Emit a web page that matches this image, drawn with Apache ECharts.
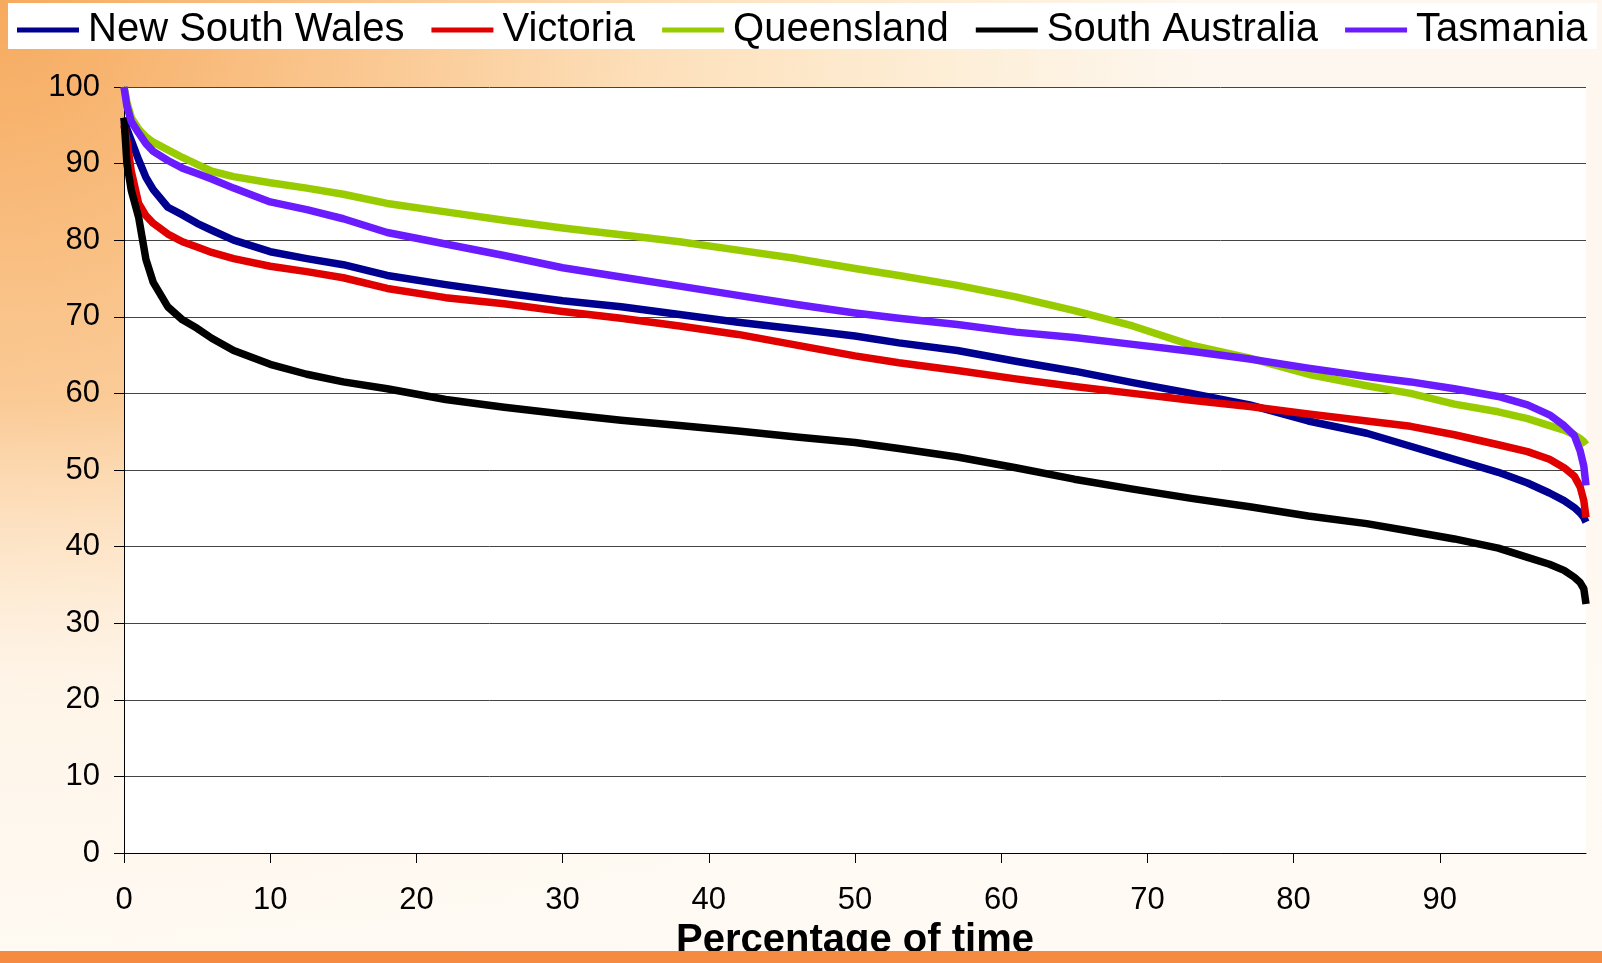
<!DOCTYPE html>
<html>
<head>
<meta charset="utf-8">
<script src="https://cdn.jsdelivr.net/npm/echarts@6/dist/echarts.min.js"></script>
<style>
html,body{margin:0;padding:0;}
#chart{width:1602px;height:963px;}
</style>
</head>
<body>
<div id="chart"></div>
<script>
// Percentage of time (x values)
const percentOfTime = [0, 0.2, 0.5, 1, 1.5, 2, 3, 4, 5, 6, 7.5, 10, 12.5, 15, 18, 22, 26, 30, 34, 38, 42, 46, 50, 53, 57, 61, 65, 69, 73, 77, 81, 85, 88, 91, 94, 96, 97.5, 98.5, 99.2, 99.6, 99.85, 100];

const newSouthWales = [96, 94.5, 93, 90.5, 88.2, 86.6, 84.3, 83.3, 82.2, 81.3, 80, 78.5, 77.6, 76.8, 75.4, 74.2, 73.1, 72.1, 71.3, 70.3, 69.3, 68.4, 67.5, 66.6, 65.6, 64.2, 62.9, 61.4, 60.0, 58.5, 56.4, 54.8, 53.1, 51.4, 49.7, 48.3, 47.0, 46.0, 45.1, 44.4, 43.8, 43.2];
const victoria = [95, 93, 89, 84.8, 83.2, 82.2, 80.8, 79.8, 79.1, 78.4, 77.6, 76.6, 75.9, 75.1, 73.7, 72.5, 71.7, 70.7, 69.8, 68.8, 67.7, 66.3, 64.9, 64.0, 63.0, 61.9, 60.9, 60.0, 59.1, 58.3, 57.3, 56.4, 55.7, 54.6, 53.3, 52.4, 51.4, 50.3, 49.2, 47.8, 46.0, 43.8];
const queensland = [100, 98, 96, 94.5, 93.5, 92.8, 91.8, 90.8, 89.9, 89.0, 88.3, 87.5, 86.8, 86.0, 84.8, 83.7, 82.6, 81.6, 80.7, 79.8, 78.7, 77.6, 76.3, 75.4, 74.1, 72.6, 70.8, 68.8, 66.3, 64.6, 62.5, 61.0, 60.0, 58.6, 57.6, 56.7, 55.8, 55.2, 54.6, 54.1, 53.7, 53.3];
const southAustralia = [96, 90, 86.5, 83, 77.5, 74.5, 71.3, 69.6, 68.5, 67.2, 65.6, 63.8, 62.5, 61.5, 60.6, 59.2, 58.2, 57.3, 56.5, 55.8, 55.1, 54.3, 53.6, 52.8, 51.7, 50.3, 48.8, 47.5, 46.3, 45.2, 44.0, 43.0, 42.0, 41.0, 39.8, 38.6, 37.7, 36.9, 36.0, 35.3, 34.5, 32.5];
const tasmania = [100, 97.5, 95.5, 94, 92.6, 91.6, 90.4, 89.4, 88.7, 88.0, 86.8, 85, 84, 82.8, 81.0, 79.5, 78.0, 76.4, 75.2, 74.0, 72.8, 71.6, 70.5, 69.8, 69.0, 68.0, 67.3, 66.4, 65.5, 64.5, 63.3, 62.2, 61.5, 60.6, 59.6, 58.5, 57.2, 55.8, 54.5, 52.5, 50.5, 48];

const seriesNames = ['New South Wales', 'Victoria', 'Queensland', 'South Australia', 'Tasmania'];
const seriesColors = ['#000090', '#e00000', '#99cc00', '#000000', '#6a1cff'];
const seriesValues = [newSouthWales, victoria, queensland, southAustralia, tasmania];
const yTicks = [0, 10, 20, 30, 40, 50, 60, 70, 80, 90, 100];

const FONT = 'Liberation Sans, Arial, sans-serif';

const chart = echarts.init(document.getElementById('chart'), null, {renderer: 'canvas'});

const series = seriesNames.map((name, i) => ({
  name: name,
  type: 'line',
  data: percentOfTime.map((x, j) => [x, seriesValues[i][j]]),
  showSymbol: false,
  symbol: 'none',
  smooth: false,
  lineStyle: {width: 7.5, color: seriesColors[i], join: 'round', cap: 'butt'},
  itemStyle: {color: seriesColors[i]},
  z: 3 + i,
  animation: false
}));

chart.setOption({
  animation: false,
  graphic: [
    {
      type: 'rect', z: -10, silent: true,
      shape: {x: 0, y: 0, width: 1602, height: 963},
      style: {
        fill: new echarts.graphic.RadialGradient(0, 0, 1.25, [
          {offset: 0, color: '#f6aa5e'},
          {offset: 0.3, color: '#fac790'},
          {offset: 0.55, color: '#fde0bb'},
          {offset: 0.8, color: '#fdefd8'},
          {offset: 1, color: '#fef7ef'}
        ])
      }
    },
    {
      type: 'rect', z: -9.5, silent: true,
      shape: {x: 0, y: 0, width: 1602, height: 963},
      style: {
        fill: new echarts.graphic.LinearGradient(0, 0, 0, 1, [
          {offset: 0, color: 'rgba(255,250,244,0)'},
          {offset: 0.42, color: 'rgba(255,250,244,0)'},
          {offset: 0.7, color: 'rgba(255,250,244,0.75)'},
          {offset: 1, color: 'rgba(255,250,244,0.95)'}
        ])
      }
    },
    {
      type: 'rect', z: -9, silent: true,
      shape: {x: 8, y: 3, width: 1589, height: 46},
      style: {fill: '#ffffff'}
    },
    {
      type: 'rect', z: 100, silent: true,
      shape: {x: 0, y: 951, width: 1602, height: 12},
      style: {fill: '#f48b40'}
    }
  ],
  legend: {
    data: seriesNames,
    left: 17,
    top: 10,
    width: 1590,
    itemWidth: 62,
    itemHeight: 5,
    itemGap: 27,
    icon: 'rect',
    padding: 0,
    textStyle: {fontSize: 40, fontFamily: FONT, color: '#000', padding: [0, 0, 0, 4]}
  },
  grid: {
    left: 124, right: 16, top: 87, bottom: 110,
    show: true, backgroundColor: '#ffffff', borderWidth: 0,
    containLabel: false,
    outerBoundsMode: 'none'
  },
  xAxis: {
    type: 'value',
    min: 0, max: 100, interval: 10,
    name: 'Percentage of time',
    nameLocation: 'middle',
    nameGap: 67,
    nameTextStyle: {fontSize: 40, fontWeight: 'bold', fontFamily: FONT, color: '#000'},
    axisLine: {show: true, onZero: false, lineStyle: {color: '#000', width: 1}},
    axisTick: {show: true, length: 10, lineStyle: {color: '#000'}},
    axisLabel: {fontSize: 31, fontFamily: FONT, color: '#000', margin: 32, showMaxLabel: false},
    splitLine: {show: false}
  },
  yAxis: {
    type: 'value',
    min: 0, max: 100, interval: 10,
    axisLine: {show: true, lineStyle: {color: '#000', width: 1}},
    axisTick: {show: true, length: 10, lineStyle: {color: '#000'}},
    axisLabel: {fontSize: 31, fontFamily: FONT, color: '#000', margin: 24,
      formatter: v => (yTicks.indexOf(v) >= 0 ? String(v) : '')},
    splitLine: {show: true, lineStyle: {color: '#444', width: 1}}
  },
  series: series
});
</script>
</body>
</html>
